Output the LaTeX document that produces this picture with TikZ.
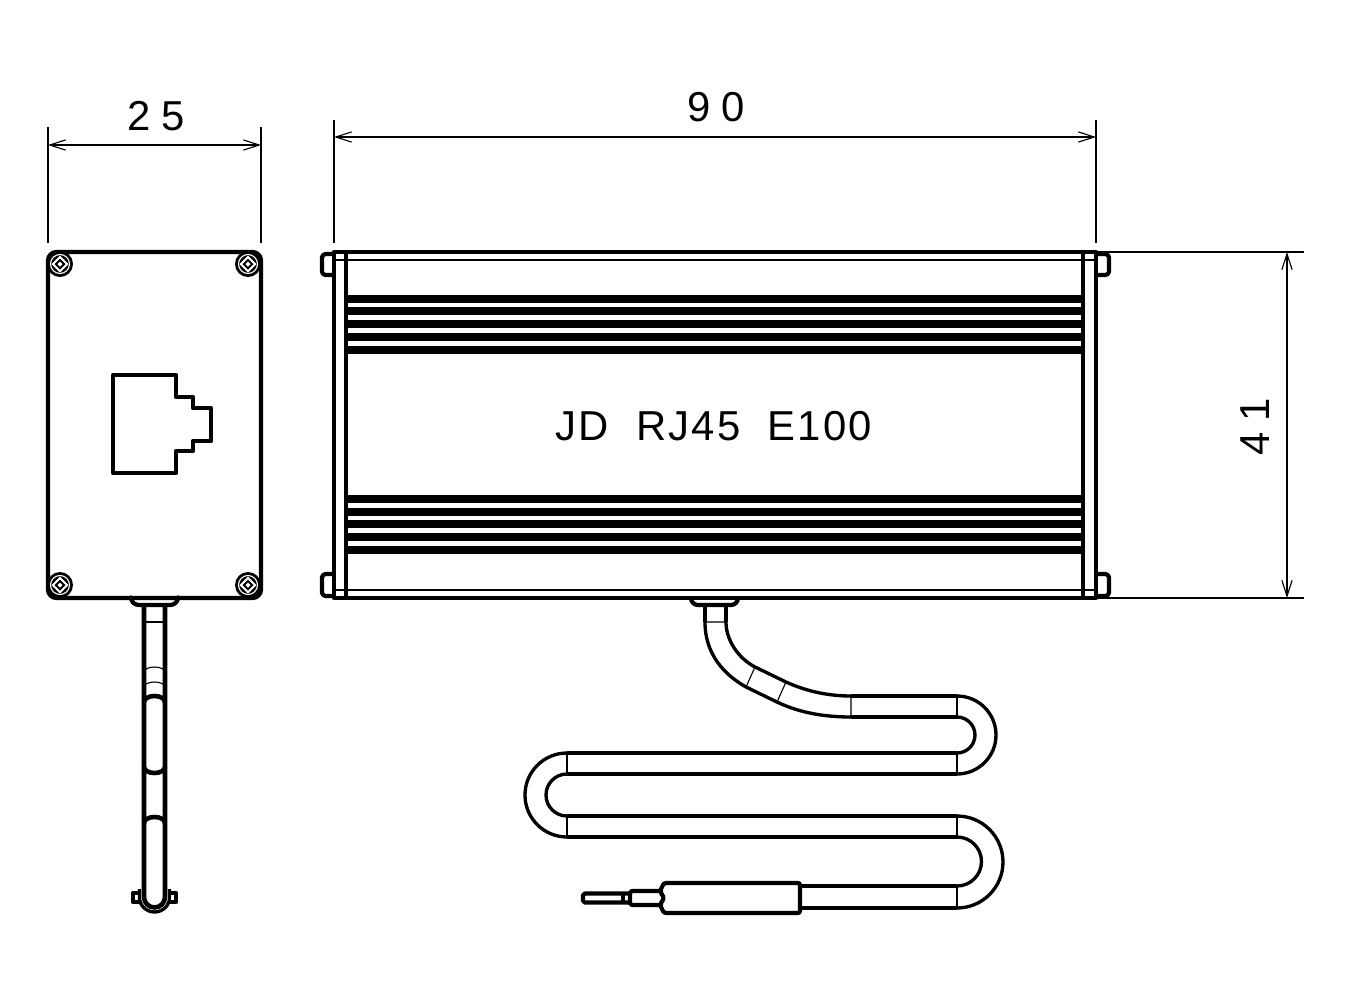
\documentclass[tikz,border=0pt]{standalone}
\usepackage{fontspec}
\setmainfont{Liberation Sans}
\newfontfamily\dimfont[LetterSpace=26]{Liberation Sans}
\newfontfamily\titlefont[LetterSpace=5]{Liberation Sans}
\usetikzlibrary{arrows.meta,calc}
\tikzset{
  body/.style={line width=1.2pt,line join=round},
  cable/.style={line width=1.3pt},
  cablebend/.style={line width=0.95pt},
  hair/.style={line width=0.32pt},
  dimline/.style={line width=0.32pt,{Straight Barb[length=4.5pt,width=2.9pt]}-{Straight Barb[length=4.5pt,width=2.9pt]}},
  dimtext/.style={font=\dimfont\fontsize{11.9}{12}\selectfont,inner sep=0pt}
}
\newcommand{\screw}[1]{%
  \fill (#1) circle (13);
  \draw[white,hair] (#1) circle (9.5);
  \fill[white] ($(#1)+(-8.5,0)$) -- ($(#1)+(0,-8.5)$) -- ($(#1)+(8.5,0)$) -- ($(#1)+(0,8.5)$) -- cycle;
  \fill ($(#1)+(-5.5,0)$) -- ($(#1)+(0,-5.5)$) -- ($(#1)+(5.5,0)$) -- ($(#1)+(0,5.5)$) -- cycle;
  \fill[white] ($(#1)+(-2.5,0)$) -- ($(#1)+(0,-2.5)$) -- ($(#1)+(2.5,0)$) -- ($(#1)+(0,2.5)$) -- cycle;
}
\begin{document}
\begin{tikzpicture}[x=0.01cm,y=-0.01cm]
  \useasboundingbox (0,0) rectangle (1350,1005);

  % front view
  \draw[body,rounded corners=2.4pt] (48,252) rectangle (261,598);
  \coordinate (SA) at (60,264); \coordinate (SB) at (248,264);
  \coordinate (SC) at (60,585); \coordinate (SD) at (248,585);
  \screw{SA} \screw{SB} \screw{SC} \screw{SD}

  % jack
  \draw[body] (113,375) -- (176,375) -- (176,397) -- (193,397) -- (193,408) -- (211,408)
    -- (211,441) -- (193,441) -- (193,451) -- (176,451) -- (176,473) -- (113,473) -- cycle;

  % cable seen from the front
  \draw[body,rounded corners=2.2pt] (131,598) -- (131,605) -- (178,605) -- (178,598);
  \draw[cable] (144,606) -- (144,897) arc (180:0:10.5) -- (165,606);
  \draw[hair] (144,622) -- (165,622);
  \draw[hair] (144,672) arc (180:360:10.5 and 5);
  \draw[hair] (144,687) arc (180:360:10.5 and 5);
  \draw[cable] (144,702) arc (180:360:10.5 and 6);
  \draw[cable] (144,767) arc (180:0:10.5 and 6);
  \draw[cable] (144,823) arc (180:360:10.5 and 6);
  \draw[body] (140,893) -- (133,893) -- (133,902) -- (140,902);
  \draw[body] (169,893) -- (176,893) -- (176,902) -- (169,902);
  \draw[cablebend] (139.5,889) -- (139.5,897.5) arc (180:0:15 and 14.5) -- (169.5,889);

  % top view
  \draw[body,rounded corners=1pt] (334,254) -- (322,254) -- (322,275) -- (334,275);
  \draw[body,rounded corners=1pt] (334,574) -- (322,574) -- (322,596) -- (334,596);
  \draw[body,rounded corners=1pt] (1096,254) -- (1109,254) -- (1109,275) -- (1096,275);
  \draw[body,rounded corners=1pt] (1096,574) -- (1109,574) -- (1109,596) -- (1096,596);
  \draw[body] (334,252) rectangle (1096,598);
  \draw[body] (346,252) -- (346,598) (1083,252) -- (1083,598);
  \draw[hair] (334,260) -- (1096,260) (334,590) -- (1096,590);
  \foreach \ribtop in {295,307,320,333,346,495,508,520,533,546}
    \fill (346,\ribtop) rectangle (1083,\ribtop+8);

  \node[font=\titlefont\fontsize{11.9}{12}\selectfont,inner sep=0pt] (title) at (714,426) {JD\ \ RJ45\ \ E100};

  % cable seen from the top
  \draw[body,rounded corners=2pt] (691,598) -- (691,605) -- (738,605) -- (738,598);
  \draw[cable] (705,606) -- (705,622);
  \draw[cable] (726,606) -- (726,622);
  \draw[cablebend] (705,622) .. controls (705,655) and (725,675) .. (746,687)
    -- (777,702) .. controls (800,713) and (825,717) .. (851,717);
  \draw[cablebend] (726,622) .. controls (726,640) and (738,658) .. (755,667)
    -- (786,682) .. controls (808,692) and (830,696) .. (851,696);
  \draw[hair] (705,622) -- (726,622) (746,687) -- (755,667) (777,702) -- (786,682) (851,696) -- (851,717);
  \draw[cable] (851,696) -- (957,696) (851,717) -- (957,717);
  \draw[hair] (957,696) -- (957,717) (957,753) -- (957,774);
  \draw[cablebend] (957,696) arc (-90:90:39);
  \draw[cablebend] (957,717) arc (-90:90:18);
  \draw[cable] (957,753) -- (567,753) (957,774) -- (567,774);
  \draw[hair] (567,753) -- (567,774) (567,816) -- (567,837);
  \draw[cablebend] (567,753) arc (-90:-270:42);
  \draw[cablebend] (567,774) arc (-90:-270:21);
  \draw[cable] (567,816) -- (957,816) (567,837) -- (957,837);
  \draw[hair] (957,816) -- (957,837) (957,886) -- (957,908);
  \draw[cablebend] (957,816) arc (-90:90:46);
  \draw[cablebend] (957,837) arc (-90:90:24.5);
  \draw[cable] (957,886) -- (800,886) (957,908) -- (800,908);

  % plug
  \draw[body,rounded corners=0.6pt] (664,883) -- (800,883) -- (800,913) -- (664,913)
    -- (660,905) -- (664,898) -- (660,891) -- cycle;
  \draw[body,rounded corners=0.5pt] (660,891) -- (630,891) -- (630,905) -- (660,905);
  \draw[body,rounded corners=0.5pt] (630,893.5) -- (583,893.5) -- (583,902.5) -- (630,902.5);
  \draw[body] (623,893.5) -- (623,902.5);

  % dimensions
  \coordinate (AL) at (48,145); \coordinate (AR) at (261,145);
  \coordinate (BL) at (334,137); \coordinate (BR) at (1096,137);
  \coordinate (CT) at (1287,252); \coordinate (CB) at (1287,598);
  \draw[hair] (48,127) -- (48,243) (261,127) -- (261,243);
  \draw[dimline] (AL) -- (AR);
  \node[dimtext] (dima) at (156,116) {25};
  \draw[hair] (334,120) -- (334,243) (1096,120) -- (1096,243);
  \draw[dimline] (BL) -- (BR);
  \node[dimtext] (dimb) at (716,107) {90};
  \draw[hair] (1096,252) -- (1304,252) (1096,598) -- (1304,598);
  \draw[dimline] (CT) -- (CB);
  \node[dimtext,rotate=90] (dimc) at (1255,427) {41};
\end{tikzpicture}
\end{document}
